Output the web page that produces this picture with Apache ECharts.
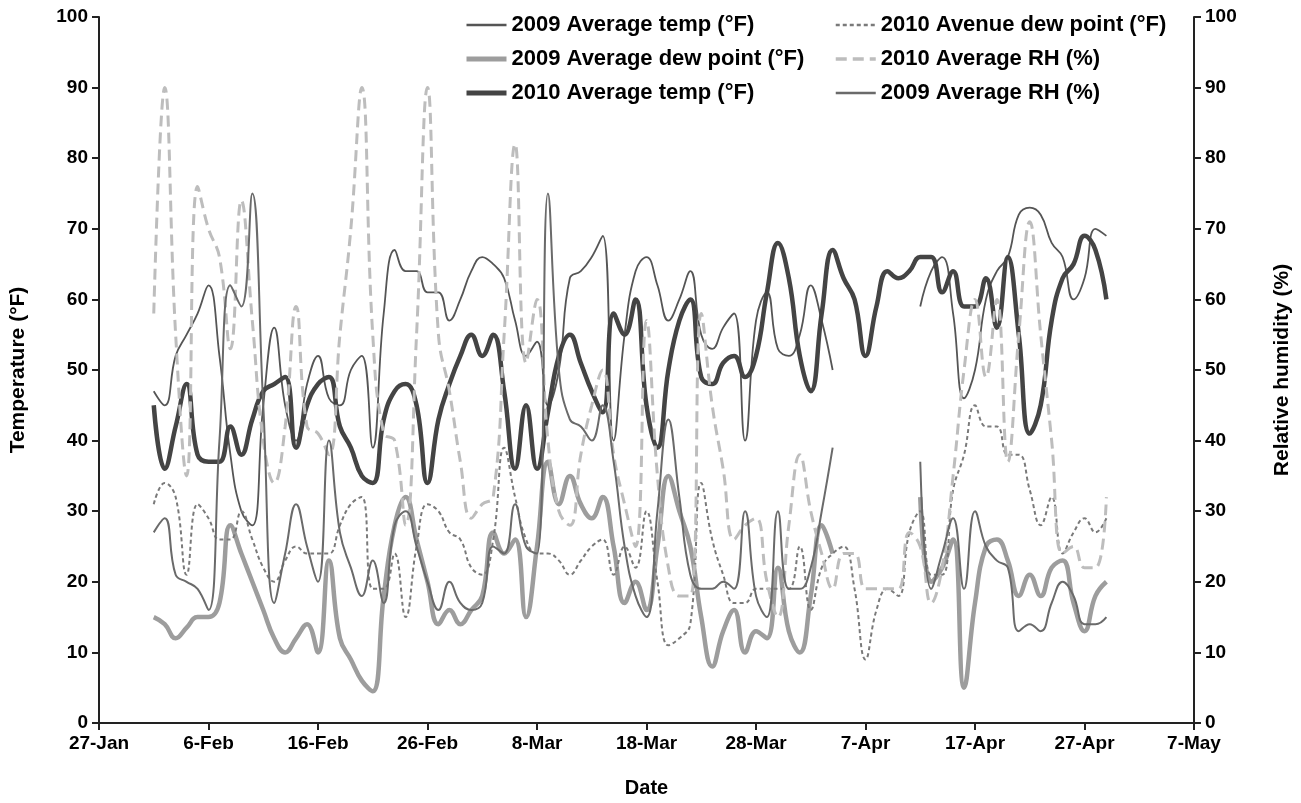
<!DOCTYPE html>
<html>
<head>
<meta charset="utf-8">
<script src="https://cdn.jsdelivr.net/npm/echarts@6/dist/echarts.min.js"></script>
<style>
  html, body { margin: 0; padding: 0; background: #fff; }
  #chart { width: 1301px; height: 803px; }
</style>
</head>
<body>
<div id="chart"></div>
<script>
// x axis: days after 27-Jan, one tick every 10 days
const tickLabels = ['27-Jan', '6-Feb', '16-Feb', '26-Feb', '8-Mar', '18-Mar', '28-Mar', '7-Apr', '17-Apr', '27-Apr', '7-May'];
const firstDay = 5; // 1-Feb

const temp2009 = [
  47, 45, 52, 55, 58, 62, 52, 38, 30, 28,
  45, 56, 45, 40, 48, 52, 46, 45, 50, 52,
  39, 58, 67, 64, 64, 61, 61, 57, 60, 64,
  66, 65, 63, 57, 52, 54, 45, 50, 63, 64,
  66, 69, 40, 55, 64, 66, 62, 57, 60, 64,
  55, 53, 56, 58, 40, 57, 61, 53, 52, 55,
  62, 57, 50,
  null, null, null, null, null, null, null,
  59, 64, 66, 58, 46, 50, 60, 64, 66, 72,
  73, 72, 68, 66, 60, 63, 70, 69
];
const dew2009 = [
  15, 14, 12, 13.5, 15, 15, 17, 28, 24, 20,
  16, 12, 10, 12, 14, 10, 23, 12, 9, 6,
  4.5, 18, 28, 32, 26, 20, 14, 16, 14, 16,
  18, 27, 24, 26, 15, 25, 37, 31, 35, 31,
  29, 32, 25, 17, 20, 16, 25, 35, 30, 25,
  15, 8, 13, 16, 10, 13, 12, 22, 13, 10,
  18, 28, 24,
  null, null, null, null, null, null, null,
  32, 20, 22, 26, 5, 17, 25, 26, 23, 18,
  21, 18, 22, 23, 17, 13, 18, 20
];
const temp2010 = [
  45, 36, 42, 48, 38, 37, 37, 42, 38, 43,
  47, 48, 49, 39, 45, 48, 49, 42, 39, 35,
  34, 43, 47, 48, 45, 34, 43, 48, 52, 55,
  52, 55, 47, 36, 45, 36, 44, 52, 55, 51,
  47, 44, 58, 55, 60, 45, 39, 50, 57, 60,
  49, 48, 51, 52, 49, 52, 61, 68, 63, 52,
  47, 58, 67, 63, 60, 52, 59, 64, 63, 64,
  66, 66, 61, 64, 59, 59, 63, 56, 66, 55,
  41, 45, 57, 63, 65, 69, 67, 60
];
const dew2010 = [
  31, 34, 32, 21, 31, 29, 26, 26, 30, 26,
  22, 20, 23, 25, 24, 24, 24, 28, 31, 32,
  19, 19, 24, 15, 25, 31, 30, 27, 26, 22,
  21, 26, 39, 32, 26, 24, 24, 23, 21, 23,
  25, 26, 21, 25, 22, 30, 20, 11, 12, 14,
  34, 26, 21, 17, 17, 19, 19, 19, 19, 25,
  16, 22, 24, 25, 19, 9, 16, 19, 18, 27,
  30, 21, 21, 33, 38, 45, 42, 42, 38, 38,
  33, 28, 32, 24, 27, 29, 27, 29
];
const rh2010 = [
  58, 90, 55, 35, 76, 70, 66, 53, 74, 57,
  40, 34, 42, 59, 42, 41, 38, 55, 70, 90,
  55, 41, 40, 28, 55, 90, 55, 47, 37, 29,
  31, 32, 55, 82, 51, 60, 40, 30, 28, 38,
  45, 50, 38, 31, 25, 57, 35, 22, 18, 18,
  58, 45, 36, 26, 28, 29, 20, 15, 28, 38,
  30, 24, 19, 24, 24, 19, 19, 19, 19, 27,
  25, 17, 22, 35, 50, 60, 49, 60, 37, 55,
  71, 55, 40, 24, 25, 22, 22, 32
];
const rh2009 = [
  27, 29, 21, 20, 19, 16, 40, 62, 59, 75,
  45, 17, 24, 31, 25, 20, 40, 27, 22, 18,
  23, 17, 28, 30, 25, 20, 16, 20, 17, 16,
  17, 25, 24, 31, 25, 24, 75, 50, 43, 42,
  40, 45, 37, 25, 18, 15, 30, 43, 32, 21,
  19, 19, 20, 19, 30, 18, 15, 30, 19, 19,
  22, 30, 39,
  null, null, null, null, null, null, null,
  37, 19, 24, 29, 19, 30, 25, 23, 22, 13,
  14, 13, 17, 20, 18, 14, 14, 15
];

function toPoints(values) {
  return values.map((v, i) => [firstDay + i, v]);
}

const chart = echarts.init(document.getElementById('chart'));
const font = 'Liberation Sans, Arial, sans-serif';
const axisLine = { show: true, lineStyle: { color: '#222', width: 2 } };
const axisTick = { show: true, length: 7, lineStyle: { color: '#222', width: 2 } };
const axisLabel = { fontFamily: font, fontWeight: 'bold', fontSize: 19, color: '#000' };
const nameStyle = { fontFamily: font, fontWeight: 'bold', fontSize: 21, color: '#000' };

const seriesStyles = [
  { name: '2009 Average temp (°F)', data: temp2009, color: '#555555', width: 1.8, type: 'solid', y: 0 },
  { name: '2009 Average dew point (°F)', data: dew2009, color: '#9d9d9d', width: 4.5, type: 'solid', y: 0 },
  { name: '2010 Average temp (°F)', data: temp2010, color: '#444444', width: 4.5, type: 'solid', y: 0 },
  { name: '2010 Avenue dew point (°F)', data: dew2010, color: '#7a7a7a', width: 2, type: [4, 3], y: 0 },
  { name: '2010 Average RH (%)', data: rh2010, color: '#bdbdbd', width: 3, type: [11, 6], y: 1 },
  { name: '2009 Average RH (%)', data: rh2009, color: '#6a6a6a', width: 2, type: 'solid', y: 1 }
];

function legendItem(s) {
  return {
    name: s.name,
    itemStyle: { opacity: 0 },
    lineStyle: { color: s.color, width: s.width + 0.5, type: s.type, opacity: 1 }
  };
}

const legendText = { fontFamily: font, fontWeight: 'bold', fontSize: 22, color: '#000' };

const option = {
  animation: false,
  backgroundColor: '#fff',
  grid: { left: 95, right: 103, top: 17, bottom: 79 },
  legend: [
    {
      orient: 'vertical', left: 459, top: 9, itemWidth: 40, itemHeight: 14, itemGap: 12,
      textStyle: legendText,
      data: seriesStyles.slice(0, 3).map(legendItem)
    },
    {
      orient: 'vertical', left: 829, top: 9, itemWidth: 40, itemHeight: 14, itemGap: 12,
      textStyle: legendText,
      data: seriesStyles.slice(3).map(legendItem)
    }
  ],
  xAxis: {
    type: 'value', min: 0, max: 100, interval: 10,
    name: 'Date', nameLocation: 'middle', nameGap: 55,
    nameTextStyle: Object.assign({}, nameStyle, { fontSize: 20 }),
    axisLine: axisLine, axisTick: axisTick, splitLine: { show: false },
    axisLabel: Object.assign({}, axisLabel, {
      margin: 11,
      formatter: v => tickLabels[Math.round(v / 10)]
    })
  },
  yAxis: [
    {
      type: 'value', min: 0, max: 100, interval: 10, position: 'left',
      name: 'Temperature (°F)', nameLocation: 'middle', nameRotate: 90, nameGap: 70,
      nameTextStyle: nameStyle,
      axisLine: axisLine, axisTick: axisTick, splitLine: { show: false },
      axisLabel: Object.assign({}, axisLabel, { margin: 11 })
    },
    {
      type: 'value', min: 0, max: 100, interval: 10, position: 'right',
      name: 'Relative humidity (%)', nameLocation: 'middle', nameRotate: 90, nameGap: 78,
      nameTextStyle: nameStyle,
      axisLine: axisLine, axisTick: axisTick, splitLine: { show: false },
      axisLabel: Object.assign({}, axisLabel, { margin: 11 })
    }
  ],
  series: seriesStyles.map(s => ({
    name: s.name,
    type: 'line',
    yAxisIndex: s.y,
    data: toPoints(s.data),
    smooth: 0.45,
    showSymbol: false,
    symbol: 'none',
    connectNulls: false,
    lineStyle: { color: s.color, width: s.width, type: s.type },
    itemStyle: { color: s.color }
  }))
};

chart.setOption(option);
window.addEventListener('resize', () => chart.resize());
</script>
</body>
</html>
